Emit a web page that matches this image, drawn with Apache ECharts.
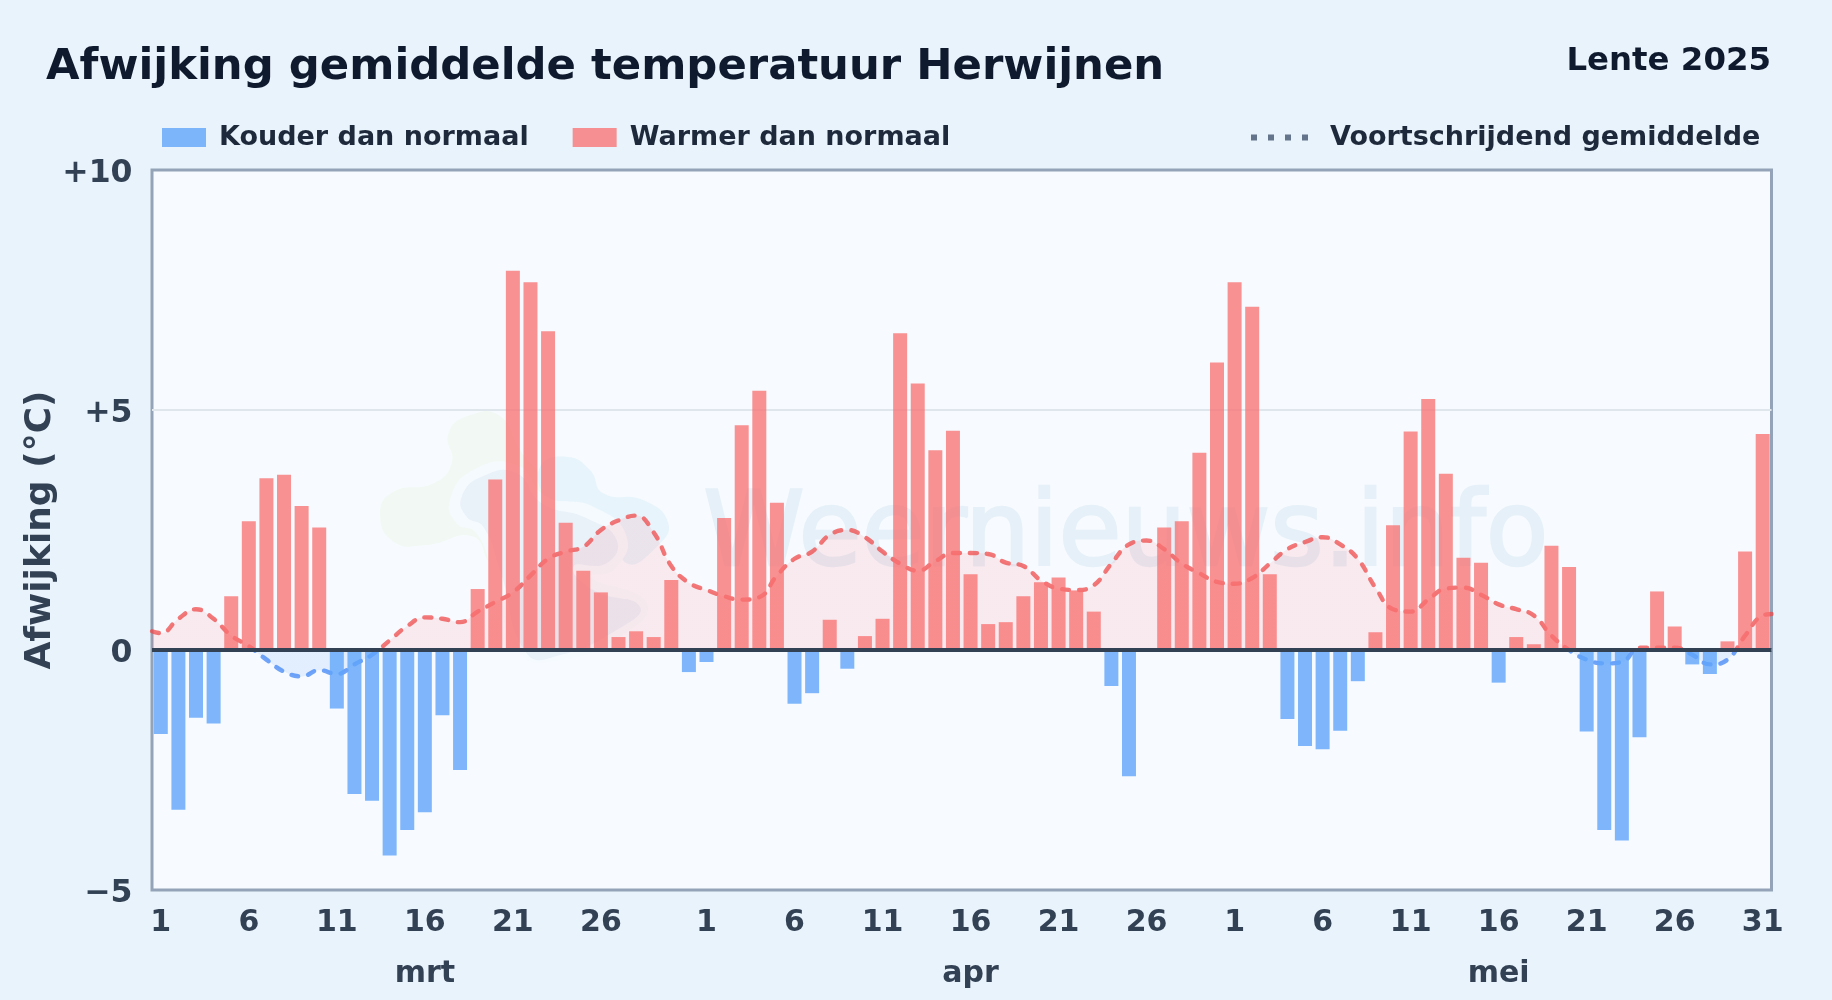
<!DOCTYPE html>
<html><head><meta charset="utf-8">
<style>html,body{margin:0;padding:0;background:#e9f3fb}#c{width:1832px;height:1000px}</style>
<script src="https://cdn.jsdelivr.net/npm/echarts@6/dist/echarts.min.js"></script>
</head><body><div id="c"></div>
<script>
const titleText = 'Afwijking gemiddelde temperatuur Herwijnen';
const subtitleText = 'Lente 2025';
const yAxisName = 'Afwijking (°C)';
const coldName = 'Kouder dan normaal';
const warmName = 'Warmer dan normaal';
const avgName = 'Voortschrijdend gemiddelde';
const watermark = 'Weernieuws.info';

const days = [
 1,2,3,4,5,6,7,8,9,10,11,12,13,14,15,16,17,18,19,20,21,22,23,24,25,26,27,28,29,30,31,
 1,2,3,4,5,6,7,8,9,10,11,12,13,14,15,16,17,18,19,20,21,22,23,24,25,26,27,28,29,30,
 1,2,3,4,5,6,7,8,9,10,11,12,13,14,15,16,17,18,19,20,21,22,23,24,25,26,27,28,29,30,31];

const months = ['mrt','apr','mei'];
const monthMidIndex = [15,46,76];

const marDev = [-1.75,-3.33,-1.41,-1.53,1.12,2.68,3.58,3.65,3.0,2.55,-1.22,-3.0,-3.14,-4.28,-3.75,-3.38,-1.36,-2.5,1.27,3.55,7.9,7.66,6.64,2.65,1.65,1.2,0.27,0.39,0.27,1.46,-0.46];
const aprDev = [-0.25,2.75,4.68,5.4,3.07,-1.12,-0.9,0.63,-0.39,0.29,0.65,6.6,5.55,4.16,4.57,1.58,0.54,0.58,1.12,1.41,1.51,1.24,0.8,-0.75,-2.63,0,2.55,2.68,4.11,5.99];
const meiDev = [7.66,7.15,1.58,-1.44,-2.0,-2.07,-1.68,-0.65,0.37,2.6,4.55,5.23,3.67,1.92,1.82,-0.68,0.27,0.12,2.17,1.73,-1.7,-3.75,-3.97,-1.82,1.22,0.49,-0.3,-0.5,0.18,2.05,4.5];

const marAvg = [0.35,0.65,0.85,0.65,0.3,0.08,-0.2,-0.45,-0.55,-0.42,-0.5,-0.3,-0.1,0.2,0.5,0.68,0.65,0.58,0.8,1.0,1.2,1.55,1.9,2.05,2.15,2.5,2.7,2.8,2.45,1.75,1.4];
const aprAvg = [1.25,1.12,1.05,1.1,1.55,1.9,2.05,2.4,2.5,2.35,2.05,1.8,1.65,1.85,2.02,2.02,2.0,1.82,1.75,1.45,1.28,1.25,1.35,1.8,2.2,2.28,2.1,1.8,1.6,1.42];
const meiAvg = [1.38,1.5,1.8,2.1,2.25,2.35,2.2,1.9,1.3,0.85,0.8,1.05,1.28,1.3,1.15,0.95,0.85,0.72,0.3,0.0,-0.2,-0.28,-0.25,0.05,0.05,0.05,-0.1,-0.3,-0.2,0.3,0.72];
const avgStart = 0.39, avgEnd = 0.75;

const deviation = marDev.concat(aprDev, meiDev);
const average = marAvg.concat(aprAvg, meiAvg);
const avgPoints = [[0,avgStart]].concat(average.map((v,i)=>[i+0.5,v]), [[days.length,avgEnd]]);

const ink='#334155';
const font='"DejaVu Sans"';
const labelIdx=(i)=>{const d=days[i];return ((d-1)%5===0&&d<31)||i===days.length-1;};

// watermark blobs, in reference pixel positions
const wm=(pts)=>pts.map(p=>[360+p[0]/3,390+p[1]/3]);
const blob=(pts,fill,z)=>({type:'polygon',silent:true,z:z,shape:{points:wm(pts),smooth:0.5},style:{fill:fill}});
const logo=[
 blob([[60,370],[100,305],[220,280],[275,220],[265,130],[330,75],[420,78],[480,180],[560,300],[520,450],[400,520],[340,440],[200,465],[100,455]],'#f2f9f4',1),
 blob([[540,230],[620,200],[690,240],[730,310],[850,330],[925,400],[890,470],[800,520],[760,400],[650,340],[560,320]],'#e8f4fc',1),
 blob([[270,330],[340,240],[470,225],[560,320],[700,350],[800,440],[760,540],[690,560],[860,640],[780,740],[600,810],[480,790],[400,560],[350,430],[290,400]],'#f5fafe',1),
 blob([[305,320],[370,258],[470,250],[545,340],[680,385],[770,450],[740,520],[640,530],[700,600],[840,650],[770,720],[600,795],[500,790],[420,540],[370,410],[320,380]],'#e9f1f9',1)
];

const chart=echarts.init(document.getElementById('c'),null,{renderer:'canvas'});
chart.setOption({
 animation:false,
 backgroundColor:'#e9f3fb',
 textStyle:{fontFamily:font},
 title:[
  {text:titleText,left:46,top:46,padding:0,textStyle:{fontFamily:font,fontSize:43.35,fontWeight:'bold',color:'#0f1a2e'}},
  {text:subtitleText,right:61,top:45.5,padding:0,textStyle:{fontFamily:font,fontSize:32.4,fontWeight:'bold',color:'#0f1a2e'}}
 ],
 legend:[
  {left:162,top:124,padding:0,itemWidth:44,itemHeight:19,itemGap:44,selectedMode:false,
   data:[{name:coldName,icon:'rect'},{name:warmName,icon:'rect'}],
   textStyle:{fontFamily:font,fontSize:27,fontWeight:'bold',color:'#1e293b',padding:[10,0,0,8]}},
  {left:1251,top:124,padding:0,itemWidth:57,itemHeight:19,selectedMode:false,
   data:[{name:avgName,icon:'path://M0 0h6v6H0zM17 0h6v6H17zM34 0h6v6H34zM51 0h6v6H51z',itemStyle:{color:'#64748b'}}],
   textStyle:{fontFamily:font,fontSize:27,fontWeight:'bold',color:'#1e293b',padding:[10,0,0,17]}}
 ],
 grid:{left:152,right:60.5,top:170,bottom:110,show:true,backgroundColor:'#f7fbff',borderColor:'#94a3b8',borderWidth:3},
 xAxis:[
  {type:'category',data:days,position:'bottom',axisLine:{show:false,onZero:false},axisTick:{show:false},splitLine:{show:false},
   axisLabel:{interval:(i)=>labelIdx(i),margin:18,fontSize:30,fontWeight:'bold',color:ink,hideOverlap:false}},
  {type:'value',min:0,max:days.length,show:false,splitLine:{show:false}},
  {type:'category',data:days.map((d,i)=>{const k=monthMidIndex.indexOf(i);return k>=0?months[k]:'';}),position:'bottom',offset:51,
   axisLine:{show:false,onZero:false},axisTick:{show:false},splitLine:{show:false},
   axisLabel:{interval:0,fontSize:30,fontWeight:'bold',color:ink,margin:18,hideOverlap:false}}
 ],
 yAxis:{type:'value',min:-5,max:10,interval:5,name:yAxisName,nameLocation:'middle',nameRotate:90,nameGap:93,nameMoveOverlap:false,
  nameTextStyle:{fontFamily:font,fontSize:36,fontWeight:'bold',color:ink},
  axisLine:{show:false},axisTick:{show:false},
  splitLine:{show:true,showMinLine:false,showMaxLine:false,lineStyle:{color:'#dfe6ec',width:2}},
  axisLabel:{margin:19.5,fontSize:31.5,fontWeight:'bold',color:ink,verticalAlign:'top',lineHeight:7,
   formatter:(v)=>v>0?'+'+v:(v<0?'\u2212'+Math.abs(v):'0')}},
 visualMap:{show:false,type:'piecewise',seriesIndex:2,dimension:1,
  pieces:[{gte:-10,lt:0,color:'#3b82f6'},{gte:0,lte:20,color:'#ef4444'}]},
 graphic:[
  ...logo,
  {type:'text',silent:true,z:1,left:702,top:486,style:{text:watermark,fontFamily:font,fontSize:102.5,fill:'#e6f0f8',stroke:'#e6f0f8',lineWidth:2.5}}
 ],
 series:[
  {name:coldName,type:'bar',z:4,barWidth:14,barGap:'-100%',color:'#60a5fa',itemStyle:{color:'#60a5fa',opacity:0.8},
   data:deviation.map(v=>v<0?v:null)},
  {name:warmName,type:'bar',z:4,barWidth:14,barGap:'-100%',color:'#f87171',itemStyle:{color:'#f87171',opacity:0.77},
   data:deviation.map(v=>v>0?v:null),
   markLine:{silent:true,z:6,symbol:'none',animation:false,label:{show:false},
    lineStyle:{color:ink,width:4,type:'solid',opacity:1},data:[{yAxis:0}]}},
  {name:avgName,type:'line',z:3,xAxisIndex:1,smooth:0.45,showSymbol:false,symbol:'none',
   lineStyle:{width:4.4,type:[7,10],cap:'round',opacity:0.72},
   areaStyle:{opacity:1,color:{type:'linear',x:0,y:170,x2:0,y2:890,global:true,colorStops:[
    {offset:0,color:'rgba(255,60,70,0.09)'},{offset:0.6667,color:'rgba(255,60,70,0.09)'},
    {offset:0.6667,color:'rgba(59,130,246,0.11)'},{offset:1,color:'rgba(59,130,246,0.11)'}]}},
   data:avgPoints}
 ]
});
</script></body></html>
